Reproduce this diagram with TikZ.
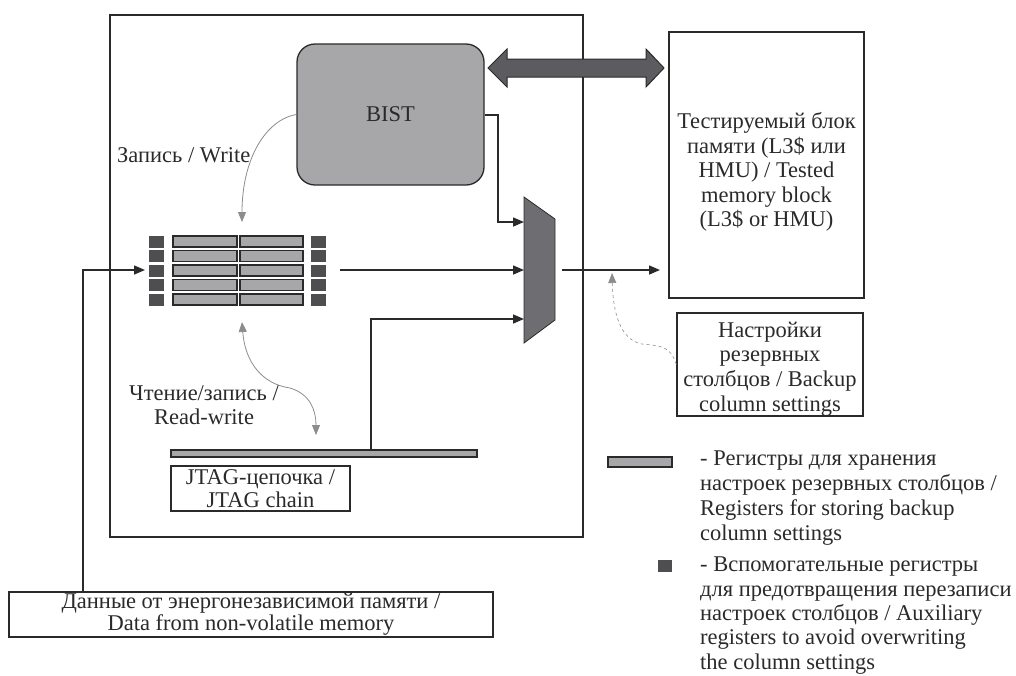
\documentclass[tikz,border=0pt]{standalone}
\usepackage{fontspec}
\setmainfont{Liberation Serif}
\usetikzlibrary{arrows.meta}
\definecolor{regfill}{HTML}{A7A7AA}
\definecolor{darksq}{HTML}{4E4E51}
\definecolor{muxfill}{HTML}{6E6E72}
\definecolor{dblfill}{HTML}{5C5C60}
\definecolor{linec}{HTML}{2A2A2A}
\definecolor{curvec}{HTML}{8C8C8C}
\begin{document}
\begin{tikzpicture}[x=1pt,y=-1pt,
  every node/.style={font=\fontsize{22.5}{24.5}\selectfont, text=linec},
  line/.style={draw=linec, line width=1.5pt},
  arr/.style={line, -{Triangle[length=11pt,width=9pt]}},
  box/.style={draw=linec, line width=1.3pt, inner sep=0pt, align=center},
  txt/.style={inner sep=0pt, align=center},
  garr/.style={draw=curvec, line width=0.8pt, -{Triangle[length=10pt,width=8pt]}},
  regbox/.style={draw=linec, fill=regfill, line width=1.1pt},
  sqbox/.style={fill=darksq}
]
\useasboundingbox (0,0) rectangle (1016,675);

% main chip box
\node[box, line width=1.5pt, minimum width=473pt, minimum height=522pt] (chip) at (346.5,276) {};

% BIST
\node[box, fill=regfill, rounded corners=18pt, minimum width=187pt, minimum height=141pt] (bist) at (390.5,114.5) {BIST};

% tested memory
\node[box, line width=1.5pt, minimum width=195pt, minimum height=266pt] (mem) at (766.5,165) {};
\node[txt] (memtxt) at (766.5,172)
  {Тестируемый блок\\памяти (L3\$ или\\HMU) / Tested\\memory block\\(L3\$ or HMU)};

% backup settings
\node[box, minimum width=186pt, minimum height=103pt] (backup) at (770,364.5) {};
\node[txt, font=\fontsize{22.5}{24.8}\selectfont] (backuptxt) at (770,369)
  {Настройки\\резервных\\столбцов / Backup\\column settings};

% data box
\node[box, minimum width=484pt, minimum height=45pt, font=\fontsize{22.5}{22}\selectfont] (data) at (251,614.5)
  {Данные от энергонезависимой памяти /\\Data from non-volatile memory};

% JTAG label
\node[box, minimum width=179pt, minimum height=45pt, font=\fontsize{22.5}{23}\selectfont] (jtaglbl) at (260.5,488.5)
  {JTAG-цепочка /\\JTAG chain};

% JTAG bar
\node[regbox, inner sep=0pt, minimum width=306pt, minimum height=7pt] (jtag) at (324,453.5) {};

% double arrow BIST <-> memory
\filldraw[fill=dblfill, draw=linec, line width=1pt]
  (488,68) -- (507,49) -- (507,59) -- (646,59) -- (646,49) -- (664,68)
  -- (646,87) -- (646,77) -- (507,77) -- (507,87) -- cycle;

% registers
\foreach \t in {236,250.5,265,279.5,294} {
  \fill[sqbox] (149,\t-0.5) rectangle (164,\t+11.5);
  \fill[sqbox] (311,\t-0.5) rectangle (326,\t+11.5);
  \draw[regbox] (173,\t) rectangle (237,\t+11);
  \draw[regbox] (240,\t) rectangle (303,\t+11);
}
\coordinate (regin) at (145,270);
\coordinate (regout) at (340,270);
\coordinate (regtop) at (242,222);
\coordinate (regbot) at (242,322);

% multiplexer
\filldraw[fill=muxfill, draw=linec, line width=0.8pt] (524,197) -- (555,219) -- (555,320) -- (524,343) -- cycle;
\coordinate (mux1) at (524,222);
\coordinate (mux2) at (524,270);
\coordinate (mux3) at (524,319);
\coordinate (muxout) at (562,270);
\coordinate (memin) at (660,270);
\coordinate (tap) at (612,273);
\coordinate (vin) at (83,0);
\coordinate (bistcol) at (498,0);
\coordinate (jtagcol) at (371,0);

% connectors
\draw[arr] (bist.east |- 0,115) -| (bistcol |- mux1) -- (mux1);
\draw[arr] (regout) -- (mux2);
\draw[arr] (jtag.north -| jtagcol) |- (mux3);
\draw[arr] (muxout) -- (memin);
\draw[arr] (data.north -| vin) |- (regin);

% write curve
\draw[garr] (bist.west) .. controls (265,120) and (242,160) .. (regtop);
% read-write curve
\draw[garr, {Triangle[length=10pt,width=8pt]}-{Triangle[length=10pt,width=8pt]}]
  (regbot) .. controls (245,362) and (262,384) .. (290,388)
  .. controls (310,394) and (316,410) .. (316,435);
% backup settings dashed curve
\draw[garr, dashed, line width=0.6pt] (backup.west) .. controls (670,345) and (660,346) .. (642,344)
  .. controls (620,340) and (613,312) .. (tap);

% labels
\node[inner sep=0pt, anchor=west] (wlbl) at (117,155) {Запись / Write};
\node[txt, font=\fontsize{22.5}{24}\selectfont] (rwlbl) at (204,405) {Чтение/запись /\\Read-write};

% legend
\node[regbox, inner sep=0pt, minimum width=64pt, minimum height=10pt] (leg1) at (640,462) {};
\node[sqbox, inner sep=0pt, minimum width=14pt, minimum height=12pt] (leg2) at (665,566) {};
\node[inner sep=0pt, anchor=north west, align=left, font=\fontsize{22.5}{25}\selectfont] (leg1t) at (700,451)
  {- Регистры для хранения\\настроек резервных столбцов /\\Registers for storing backup\\column settings};
\node[inner sep=0pt, anchor=north west, align=left, font=\fontsize{22.5}{24.3}\selectfont] (leg2t) at (700,557)
  {- Вспомогательные регистры\\для предотвращения перезаписи\\настроек столбцов / Auxiliary\\registers to avoid overwriting\\the column settings};
\end{tikzpicture}
\end{document}
